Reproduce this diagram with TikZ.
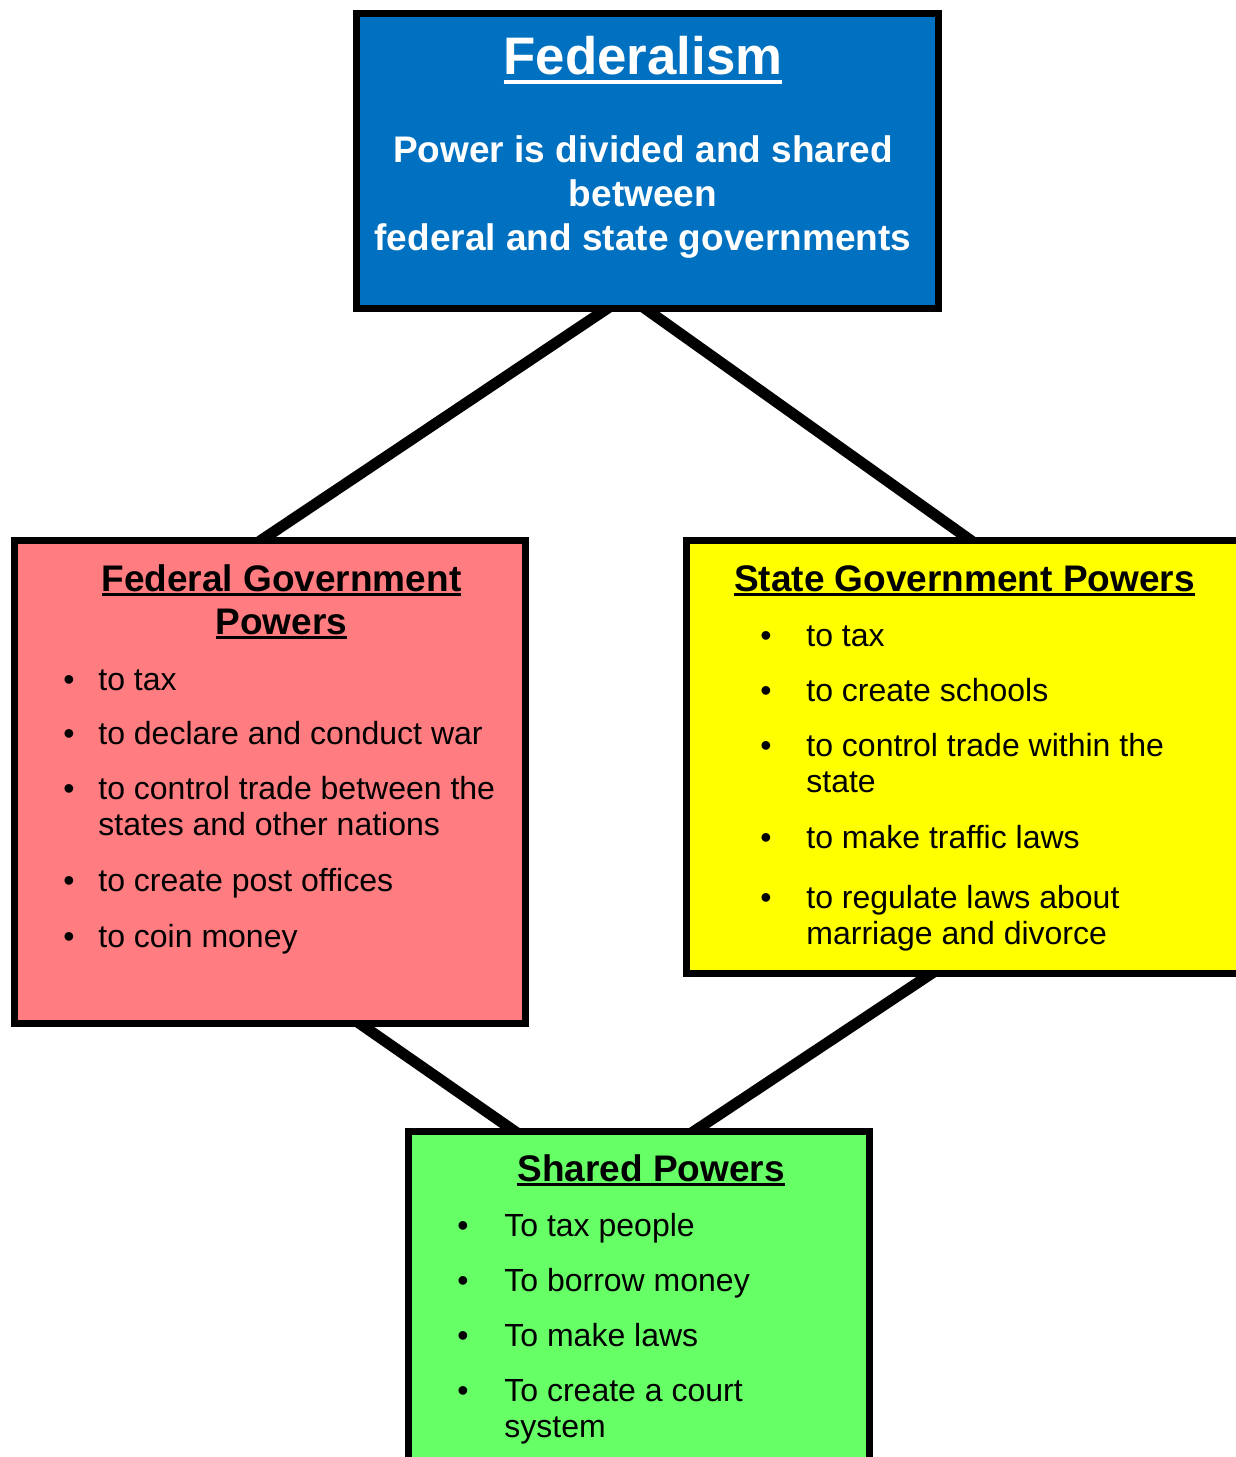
\documentclass[tikz,border=0pt]{standalone}
\usepackage{fontspec}
\setmainfont{Liberation Sans}
\usetikzlibrary{calc,fit,backgrounds}

\definecolor{fedblue}{HTML}{0070C0}
\definecolor{fedpink}{HTML}{FF7C80}
\definecolor{stateyellow}{HTML}{FFFF00}
\definecolor{sharedgreen}{HTML}{66FF66}

% underline: depth below baseline, rule thickness, text
\newcommand{\undl}[3]{\setbox0\hbox{#3}\rlap{\rule[-#1]{\wd0}{#2}}\box0}

\begin{document}
\begin{tikzpicture}[x=0.5pt, y=-0.5pt,
    box/.style={draw=black, line width=3.5pt, inner sep=0pt},
    link/.style={line width=5.5pt, shorten <=-4pt, shorten >=-4pt},
    heading/.style={font=\bfseries\fontsize{18.5}{21.5}\selectfont, anchor=base, align=center, inner sep=0pt},
    item/.style={font=\fontsize{16}{18}\selectfont, anchor=base west, align=left, inner sep=0pt},
    dot/.style={font=\fontsize{16}{18}\selectfont, anchor=base, inner sep=0pt}]
    \useasboundingbox (0,0) rectangle (1236,1457);
    \clip (0,0) rectangle (1236,1457);

    % Boxes
    \node[box, fill=fedblue, fit={(356,13) (938,308.5)}] (top) {};
    \node[box, fill=fedpink, fit={(14,540.5) (525,1023)}] (fed) {};
    \node[box, fill=stateyellow, fit={(686.5,540.5) (1256.5,973)}] (state) {};
    \node[box, fill=sharedgreen, fit={(408,1131.5) (869.5,1490)}] (shared) {};

    % Connectors, kept behind the boxes
    \begin{scope}[on background layer]
        \draw[link] ($(top.south)+(-45,0)$) -- ($(fed.north)+(-3.5,0)$);
        \draw[link] ($(top.south)+(3,0)$) -- ($(state.north)+(-5.5,0)$);
        \draw[link] ($(fed.south)+(94.5,0)$) -- ($(shared.north)+(-128.75,0)$);
        \draw[link] ($(state.south)+(-44.5,0)$) -- ($(shared.north)+(60.25,0)$);
    \end{scope}

    % Federalism (multi-line nodes sit on the baseline of their last line)
    \node[white, font=\bfseries\fontsize{26.4}{30}\selectfont, anchor=base, inner sep=0pt] (title) at (643,74) {\undl{5pt}{2pt}{Federalism}};
    \node[heading, white, font=\bfseries\fontsize{18.5}{22}\selectfont] (idea) at (643,250) {Power is divided and shared\\between\\federal and state governments};

    % Federal government
    \node[heading] (fedtitle) at (281.5,634) {\undl{2.5pt}{1.5pt}{Federal Government}\\\undl{2.5pt}{1.5pt}{Powers}};
    \foreach \y [count=\i] in {690.5,744.5,799.5,891.5,947.5}
        \node[dot] (feddot\i) at (69,\y) {\textbullet};
    \foreach \y/\txt [count=\i] in {690.5/to tax, 744.5/to declare and conduct war,
            835.5/{to control trade between the\\states and other nations},
            891.5/to create post offices, 947.5/to coin money}
        \node[item] (feditem\i) at (98,\y) {\txt};

    % State government
    \node[heading] (statetitle) at (964.5,591) {\undl{2.5pt}{1.5pt}{State Government Powers}};
    \foreach \y [count=\i] in {646.5,701.5,756.5,848.5,908.5}
        \node[dot] (statedot\i) at (766,\y) {\textbullet};
    \foreach \y/\txt [count=\i] in {646.5/to tax, 701.5/to create schools,
            792.5/{to control trade within the\\state}, 848.5/to make traffic laws,
            944.5/{to regulate laws about\\marriage and divorce}}
        \node[item] (stateitem\i) at (806,\y) {\txt};

    % Shared
    \node[heading] (sharedtitle) at (651,1181) {\undl{2.5pt}{1.5pt}{Shared Powers}};
    \foreach \y [count=\i] in {1236.5,1291.5,1346.5,1401.5}
        \node[dot] (shareddot\i) at (463,\y) {\textbullet};
    \foreach \y/\txt [count=\i] in {1236.5/To tax people, 1291.5/To borrow money,
            1346.5/To make laws, 1437.5/{To create a court\\system}}
        \node[item] (shareditem\i) at (504,\y) {\txt};
\end{tikzpicture}
\end{document}
